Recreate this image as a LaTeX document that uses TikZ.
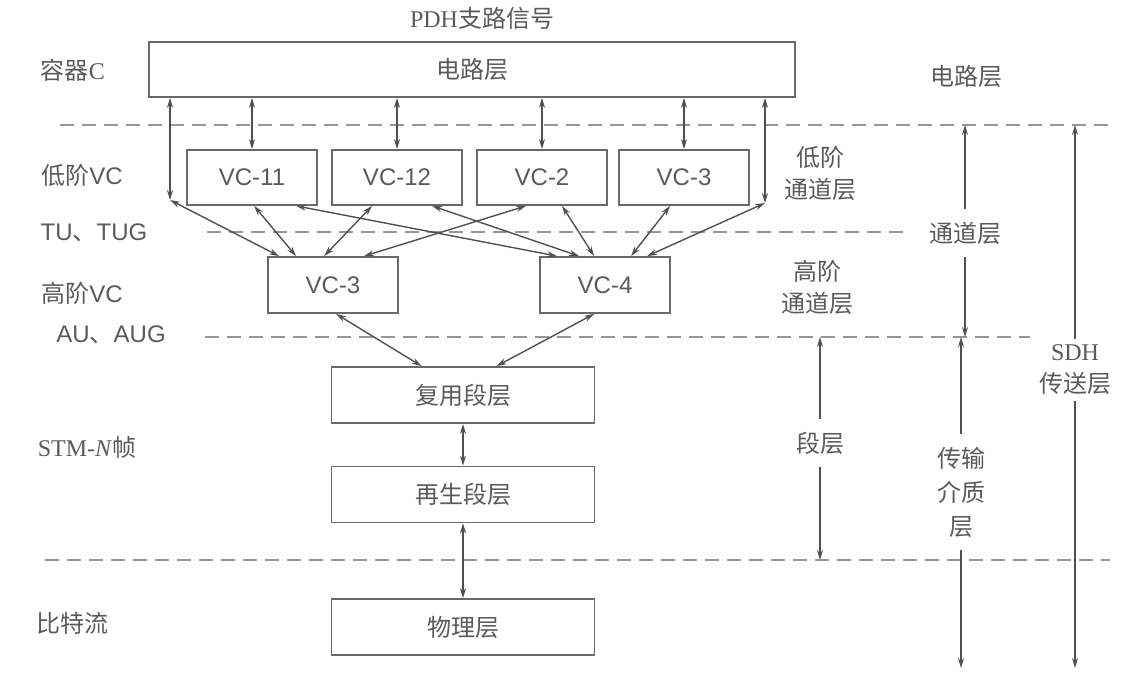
\documentclass[tikz,border=0pt]{standalone}
\usepackage{fontspec}
\setmainfont{Liberation Serif}
\setsansfont{Liberation Sans}
\newfontfamily\cjk{Noto Sans CJK SC}
\usetikzlibrary{arrows.meta,calc}

\definecolor{txtgray}{RGB}{90,90,90}
\definecolor{boxgray}{RGB}{105,105,105}
\definecolor{arrgray}{RGB}{80,80,80}
\definecolor{dashgray}{RGB}{150,150,150}

\tikzset{
  layerbox/.style={draw=boxgray, line width=0.9pt, inner sep=0pt, minimum height=27.5pt,
    text=txtgray, font=\cjk\fontsize{12}{14}\selectfont},
  vcbox/.style={layerbox, minimum width=65pt, font=\sffamily\fontsize{12}{14}\selectfont},
  sidelbl/.style={text=txtgray, inner sep=0pt, font=\fontsize{12}{16}\selectfont},
  rangelbl/.style={sidelbl, align=center, inner sep=6pt},
  biarrow/.style={draw=arrgray, line width=0.7pt,
    {Stealth[length=5pt,width=3pt]}-{Stealth[length=5pt,width=3pt]}},
  rangearrow/.style={draw=arrgray, line width=0.7pt, -{Stealth[length=5pt,width=3pt]}},
  divider/.style={draw=dashgray, line width=0.9pt, dash pattern=on 7pt off 4pt},
}

\begin{document}
\begin{tikzpicture}[x=0.5pt,y=-0.5pt]
\useasboundingbox (0,0) rectangle (1127,685);

% layer boundaries
\draw[divider] (60,125) -- (1112,125);
\draw[divider] (207,232) -- (907,232);
\draw[divider] (205,337) -- (1030,337);
\draw[divider] (45,560) -- (1110,560);
\coordinate (lv1) at (0,125);
\coordinate (lv3) at (0,337);
\coordinate (lv4) at (0,560);
\coordinate (lvend) at (0,668);

% boxes
\node[sidelbl] (pdh) at (482,18) {PDH{\cjk 支路信号}};
\node[layerbox, minimum width=323pt] (circuit) at (472,69.5) {电路层};
\node[vcbox] (vc11) at (252,177.5) {VC-11};
\node[vcbox] (vc12) at (397,177.5) {VC-12};
\node[vcbox] (vc2) at (542,177.5) {VC-2};
\node[vcbox] (vc3) at (684,177.5) {VC-3};
\node[vcbox, minimum height=28pt] (hvc3) at (333,285) {VC-3};
\node[vcbox, minimum height=28pt] (hvc4) at (605,285) {VC-4};
\node[layerbox, minimum width=131.5pt, minimum height=28pt] (mux) at (463,395) {复用段层};
\node[layerbox, minimum width=131.5pt, minimum height=28pt] (regen) at (463,494.5) {再生段层};
\node[layerbox, minimum width=131.5pt, minimum height=28pt] (phys) at (463,627) {物理层};
\coordinate (jl) at (170,200);
\coordinate (jr) at (765,203);

% left labels
\node[sidelbl] (cont) at (73,70) {{\cjk 容器}C};
\node[sidelbl] (lovc) at (82,175) {{\cjk 低阶}\sffamily VC};
\node[sidelbl] (tu) at (94,233) {\sffamily TU{\cjk 、}TUG};
\node[sidelbl] (hovc) at (82,293) {{\cjk 高阶}\sffamily VC};
\node[sidelbl] (au) at (111,335) {\sffamily AU{\cjk 、}AUG};
\node[sidelbl] (stm) at (87,447) {STM-\textit{N}{\cjk 帧}};
\node[sidelbl] (bits) at (72,623) {\cjk 比特流};

% right labels
\node[sidelbl] (circlbl) at (966,76) {\cjk 电路层};
\node[rangelbl, inner sep=0pt] (lopath) at (820,173) {{\cjk 低阶}\\{\cjk 通道层}};
\node[rangelbl, inner sep=0pt] (hopath) at (817,287) {{\cjk 高阶}\\{\cjk 通道层}};
\node[rangelbl] (chan) at (965,233) {\cjk 通道层};
\node[rangelbl] (sect) at (820,443) {\cjk 段层};
\node[rangelbl, font=\cjk\fontsize{12}{17}\selectfont] (medium) at (961,492) {传输\\介质\\层};
\node[rangelbl, inner sep=3pt] (sdh) at (1075,370) {SDH\\{\cjk 传送层}};

% circuit layer to VCs
\foreach \v in {vc11,vc12,vc2,vc3}
  \draw[biarrow] (\v.north) -- (\v.north |- circuit.south);
\draw[biarrow] (jl) -- (jl |- circuit.south);
\draw[biarrow] (jr) -- (jr |- circuit.south);

% low order to high order
\draw[biarrow] (jl) -- ($(hvc3.north west)+(12,0)$);
\draw[biarrow] ($(vc11.south west)+(68,0)$) -- ($(hvc3.north west)+(29,0)$);
\draw[biarrow] ($(vc12.south west)+(41,0)$) -- ($(hvc3.north west)+(57,0)$);
\draw[biarrow] ($(vc2.south west)+(50,0)$) -- ($(hvc3.north west)+(97,0)$);
\draw[biarrow] ($(vc11.south west)+(110,0)$) -- ($(hvc4.north west)+(18,0)$);
\draw[biarrow] ($(vc12.south west)+(101,0)$) -- ($(hvc4.north west)+(40,0)$);
\draw[biarrow] ($(vc2.south west)+(86,0)$) -- ($(hvc4.north west)+(55,0)$);
\draw[biarrow] ($(vc3.south west)+(52,0)$) -- ($(hvc4.north west)+(92,0)$);
\draw[biarrow] (jr) -- ($(hvc4.north west)+(108,0)$);

% section layers
\draw[biarrow] ($(hvc3.south west)+(69,0)$) -- ($(mux.north west)+(91,0)$);
\draw[biarrow] ($(hvc4.south west)+(55,0)$) -- ($(mux.north west)+(166,0)$);
\draw[biarrow] (mux.south) -- (regen.north);
\draw[biarrow] (regen.south) -- (phys.north);

% layer ranges
\draw[rangearrow] (chan.north) -- (chan.north |- lv1);
\draw[rangearrow] (chan.south) -- (chan.south |- lv3);
\draw[rangearrow] (sect.north) -- (sect.north |- lv3);
\draw[rangearrow] (sect.south) -- (sect.south |- lv4);
\draw[rangearrow] (medium.north) -- (medium.north |- lv3);
\draw[rangearrow] (medium.south) -- (medium.south |- lvend);
\draw[rangearrow] (sdh.north) -- (sdh.north |- lv1);
\draw[rangearrow] (sdh.south) -- (sdh.south |- lvend);
\end{tikzpicture}
\end{document}
